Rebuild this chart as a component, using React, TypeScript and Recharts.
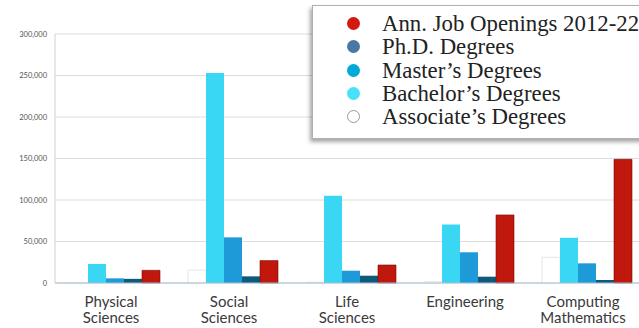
import React from "react";
import { BarChart, Bar, XAxis, YAxis, CartesianGrid } from "recharts";

const categories = ["Physical Sciences", "Social Sciences", "Life Sciences", "Engineering", "Computing Mathematics"];
const categoryLines = [["Physical", "Sciences"], ["Social", "Sciences"], ["Life", "Sciences"], ["Engineering"], ["Computing", "Mathematics"]];
const associate = [600, 15500, 1000, 1500, 31000];
const bachelor = [23000, 253000, 105000, 70500, 54500];
const master = [5600, 55000, 14800, 37000, 23700];
const phd = [5000, 8000, 8800, 7600, 3600];
const jobs = [15300, 27000, 21700, 82000, 149000];
const yTicks = [0, 50000, 100000, 150000, 200000, 250000, 300000];

const legendItems = [
  { name: "Ann. Job Openings 2012-22", color: "#d41a10" },
  { name: "Ph.D. Degrees", color: "#4a77a6" },
  { name: "Master\u2019s Degrees", color: "#00a9d6" },
  { name: "Bachelor\u2019s Degrees", color: "#48e0fa" },
  { name: "Associate\u2019s Degrees", color: "#ffffff" },
];

const data = categories.map((c, i) => ({
  name: c,
  associate: associate[i],
  bachelor: bachelor[i],
  master: master[i],
  phd: phd[i],
  jobs: jobs[i],
}));

const XTick = (props: any) => {
  const { x, y, payload } = props;
  const lines = categoryLines[payload.index] || [payload.value];
  return (
    <text x={x - 3} y={y} textAnchor="middle" fontFamily="Lato" fontSize={15} fill="#3a3a3a">
      {lines.map((l: string, i: number) => (
        <tspan key={i} x={x - 3} dy={i === 0 ? 16 : 16.3}>{l}</tspan>
      ))}
    </text>
  );
};

const LegendBox = () => (
  <div
    style={{
      position: "absolute",
      left: 312,
      top: 5,
      width: 360,
      height: 134,
      background: "#fff",
      border: "1px solid #b0b0b0",
      boxShadow: "-2px 3px 4px rgba(0,0,0,0.35)",
      boxSizing: "border-box",
      paddingTop: 6,
      fontFamily: "'Liberation Serif', serif",
      fontSize: 22.8,
      color: "#222",
    }}
  >
    {legendItems.map((it) => (
      <div key={it.name} style={{ display: "flex", alignItems: "center", height: 23.3, whiteSpace: "nowrap" }}>
        <span
          style={{
            display: "inline-block",
            flex: "none",
            width: 13,
            height: 13,
            borderRadius: "50%",
            background: it.color,
            border: it.color === "#ffffff" ? "1px solid #999" : "none",
            boxSizing: "border-box",
            marginLeft: 34,
            marginRight: 22,
          }}
        />
        <span style={{ lineHeight: "23px" }}>{it.name}</span>
      </div>
    ))}
  </div>
);

export default function App() {
  return (
    <div style={{ position: "absolute", left: 0, top: 0, width: 639, height: 328, overflow: "hidden", background: "#fff" }}>
      <BarChart
        width={660}
        height={328}
        data={data}
        margin={{ top: 34, right: 15, bottom: 15, left: 0 }}
        barCategoryGap={15}
        barGap={0}
      >
        <CartesianGrid vertical={false} stroke="#dcdcdc" />
        <XAxis
          dataKey="name"
          height={30}
          tick={<XTick />}
          tickLine={false}
          axisLine={{ stroke: "#a9bfd6" }}
          interval={0}
        />
        <YAxis
          width={55}
          domain={[0, 300000]}
          ticks={yTicks}
          tickLine={false}
          axisLine={{ stroke: "#d0d0d0" }}
          tick={{ fontSize: 7.5, fill: "#555", fontFamily: "Lato" }}
          tickFormatter={(v: number) => v.toLocaleString("en-US")}
        />
        <Bar dataKey="associate" fill="#ffffff" stroke="#e6e6e6" strokeWidth={1} isAnimationActive={false} />
        <Bar dataKey="bachelor" fill="#3ad7f4" isAnimationActive={false} />
        <Bar dataKey="master" fill="#1f9ad8" isAnimationActive={false} />
        <Bar dataKey="phd" fill="#0f5a7c" isAnimationActive={false} />
        <Bar dataKey="jobs" fill="#c0180c" stroke="#7a0c05" strokeWidth={0.6} isAnimationActive={false} />
      </BarChart>
      <LegendBox />
    </div>
  );
}
